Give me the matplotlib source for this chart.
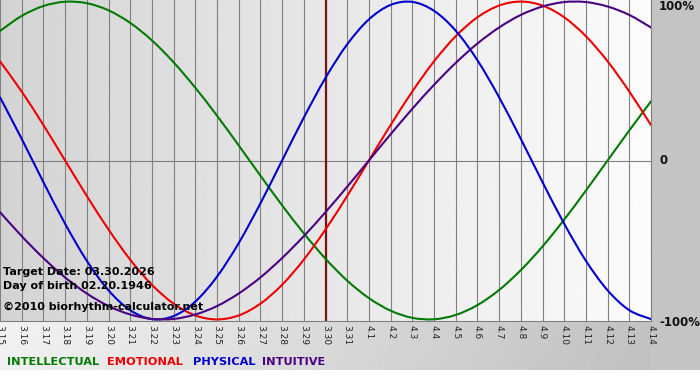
import numpy as np
import matplotlib
matplotlib.use("Agg")
import matplotlib.pyplot as plt
from matplotlib.path import Path
from matplotlib.patches import PathPatch

# days shown, 3.15 .. 4.14 (target day 3.30 sits in the middle)
day_labels = ["3.15", "3.16", "3.17", "3.18", "3.19", "3.20", "3.21", "3.22",
              "3.23", "3.24", "3.25", "3.26", "3.27", "3.28", "3.29", "3.30",
              "3.31", "4.1", "4.2", "4.3", "4.4", "4.5", "4.6", "4.7", "4.8",
              "4.9", "4.10", "4.11", "4.12", "4.13", "4.14"]
target_label = "3.30"

intellectual = [0.815, 0.910, 0.972, 0.999, 0.990, 0.945, 0.866, 0.756, 0.618,
                0.458, 0.282, 0.095, -0.095, -0.282, -0.458, -0.618, -0.756,
                -0.866, -0.945, -0.990, -0.999, -0.972, -0.910, -0.815, -0.690,
                -0.541, -0.372, -0.189, 0.0, 0.189, 0.372]
emotional = [0.624, 0.434, 0.223, 0.0, -0.223, -0.434, -0.624, -0.782, -0.901,
             -0.975, -1.0, -0.975, -0.901, -0.782, -0.624, -0.434, -0.223, 0.0,
             0.223, 0.434, 0.624, 0.782, 0.901, 0.975, 1.0, 0.975, 0.901, 0.782,
             0.624, 0.434, 0.223]
physical = [0.398, 0.136, -0.136, -0.398, -0.631, -0.817, -0.942, -0.998, -0.979,
            -0.888, -0.731, -0.520, -0.270, 0.0, 0.270, 0.520, 0.731, 0.888,
            0.979, 0.998, 0.942, 0.817, 0.631, 0.398, 0.136, -0.136, -0.398,
            -0.631, -0.817, -0.942, -0.998]
intuitive = [-0.325, -0.476, -0.614, -0.736, -0.837, -0.916, -0.969, -0.997,
             -0.997, -0.969, -0.916, -0.837, -0.736, -0.614, -0.476, -0.325,
             -0.165, 0.0, 0.165, 0.325, 0.476, 0.614, 0.736, 0.837, 0.916,
             0.969, 0.997, 0.997, 0.969, 0.916, 0.837]

series = [
    ("INTELLECTUAL", intellectual, "#007a00"),
    ("EMOTIONAL", emotional, "#ee0000"),
    ("PHYSICAL", physical, "#0000cc"),
    ("INTUITIVE", intuitive, "#4b0082"),
]

W, H = 700, 380


def fx(px):
    return px / W


def fy(py):
    return 1 - py / H


def smooth_path(xs, ys):
    # bezier path through the points (catmull-rom style tangents)
    xs = np.asarray(xs, float)
    ys = np.asarray(ys, float)
    n = len(xs)
    verts = [(xs[0], ys[0])]
    codes = [Path.MOVETO]
    for i in range(n - 1):
        i0 = max(i - 1, 0)
        i3 = min(i + 2, n - 1)
        c1 = (xs[i] + (xs[i + 1] - xs[i0]) / 6, ys[i] + (ys[i + 1] - ys[i0]) / 6)
        c2 = (xs[i + 1] - (xs[i3] - xs[i]) / 6, ys[i + 1] - (ys[i3] - ys[i]) / 6)
        verts += [c1, c2, (xs[i + 1], ys[i + 1])]
        codes += [Path.CURVE4] * 3
    return Path(verts, codes)


fig = plt.figure(figsize=(7, 3.8), dpi=100)

# background: grey fade to the right, white strip at the very bottom
bg = fig.add_axes([0, 0, 1, 1], zorder=0)
gx = np.linspace(0, 1, 200)
gy = np.linspace(0, 1, 100)
GX, GY = np.meshgrid(gx, gy)
grad = 1.0 - 0.24 * np.clip(GX * 0.85 + GY * 0.25, 0, 1)
bg.imshow(grad, cmap="gray", vmin=0, vmax=1, extent=[0, W, H, 0], aspect="auto")
bg.add_patch(plt.Rectangle((651, 0), 49, 370, color="#c4c4c4", lw=0))
bg.add_patch(plt.Rectangle((0, 370), W, 10, color="white", lw=0))
bg.set_xlim(0, W)
bg.set_ylim(H, 0)
bg.axis("off")

ax = fig.add_axes([0, fy(321), fx(651), 321 / H], zorder=1)
x = np.arange(len(day_labels))
ax.set_xlim(0, len(day_labels) - 1)
ax.set_ylim(-1.01, 1.01)

# plot area gradient
pg = np.linspace(0.83, 0.985, 300).reshape(1, -1)
ax.imshow(pg, cmap="gray", vmin=0, vmax=1, aspect="auto",
          extent=[0, len(day_labels) - 1, -1.01, 1.01], zorder=0)

for xi in x:
    ax.axvline(xi, color="#808080", lw=0.8, zorder=1)
ax.axhline(0, color="#808080", lw=0.8, zorder=1)
ax.axvline(day_labels.index(target_label), color="#7a1212", lw=1.6, zorder=2)

for name, vals, col in series:
    ax.add_patch(PathPatch(smooth_path(x, vals), facecolor="none", edgecolor=col,
                           lw=1.5, zorder=3, capstyle="round"))

for s in ["left", "top"]:
    ax.spines[s].set_visible(False)
for s in ["right", "bottom"]:
    ax.spines[s].set_color("#808080")
    ax.spines[s].set_linewidth(0.8)

ax.set_xticks(x)
ax.set_xticklabels(day_labels, rotation=270, fontsize=6.5, color="#222222")
ax.tick_params(axis="x", length=0, pad=3)
ax.set_yticks([])

# right side percentages
for txt, py in [("100%", 7), ("0", 161), ("-100%", 322)]:
    fig.text(fx(659), fy(py), txt, fontsize=8.5, fontweight="bold",
             va="center", ha="left", color="#111111", zorder=5)

# info text
fig.text(fx(3), fy(272), "Target Date: 03.30.2026", fontsize=8, fontweight="bold",
         va="center", ha="left", zorder=5)
fig.text(fx(3), fy(286), "Day of birth 02.20.1946", fontsize=8, fontweight="bold",
         va="center", ha="left", zorder=5)
fig.text(fx(3), fy(307), "\u00a92010 biorhythm-calculator.net", fontsize=8,
         fontweight="bold", va="center", ha="left", zorder=5)

# legend row
legend_x = [7, 107, 193, 262]
for (name, vals, col), lx in zip(series, legend_x):
    fig.text(fx(lx), fy(362), name, fontsize=8.2, fontweight="bold", color=col,
             va="center", ha="left", zorder=5)

fig.savefig("out.png", dpi=100)
